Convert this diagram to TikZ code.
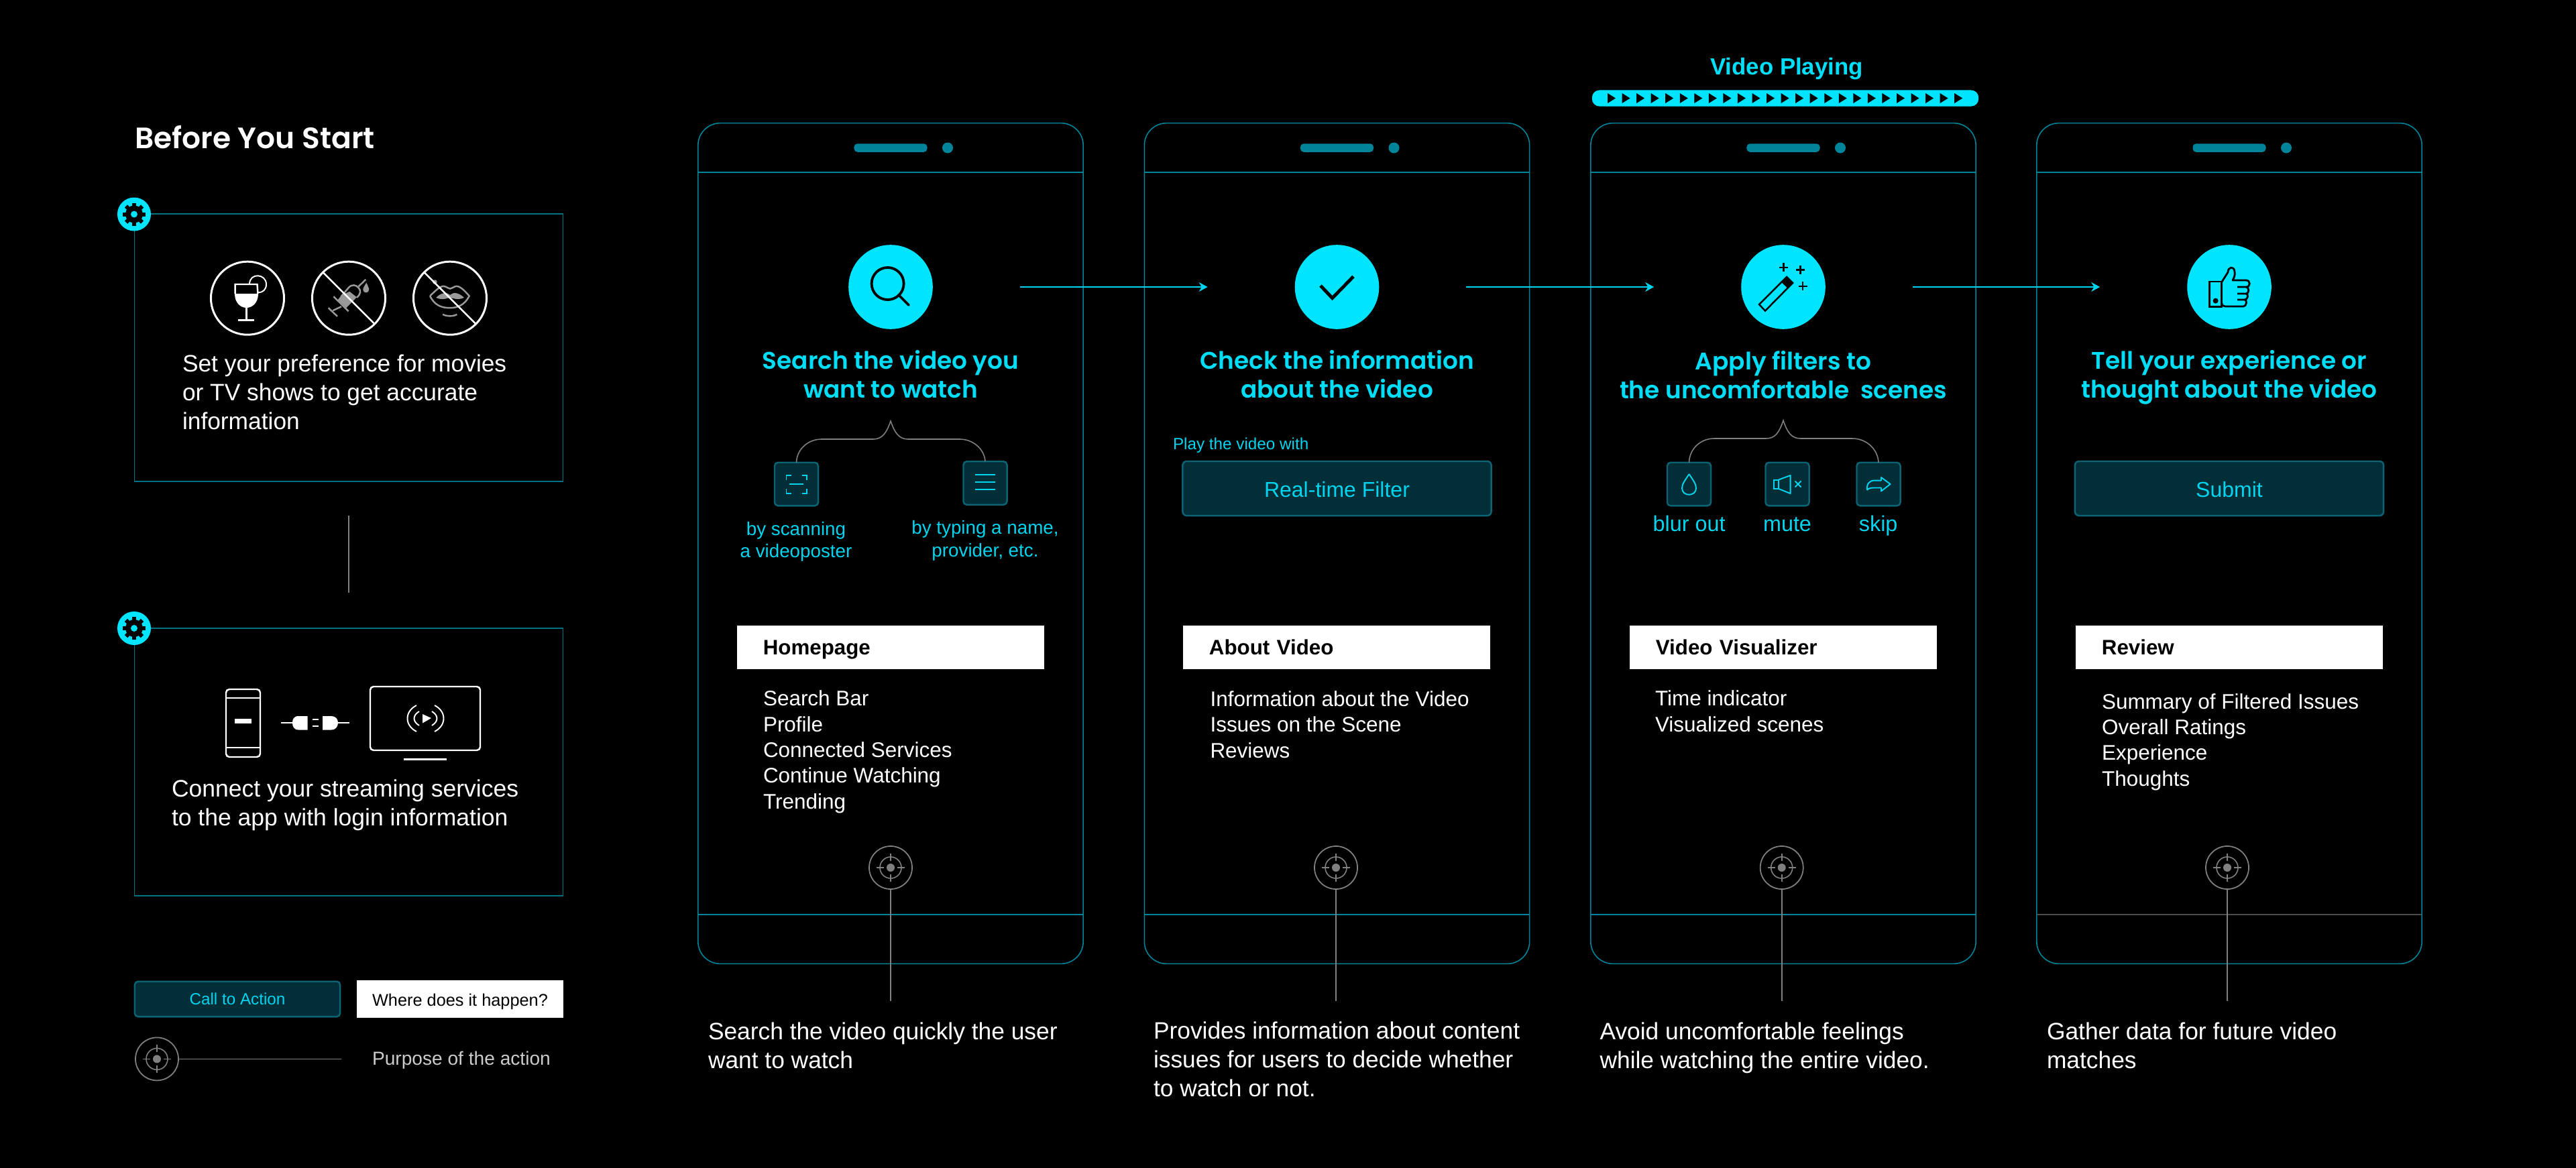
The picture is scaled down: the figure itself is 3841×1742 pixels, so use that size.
\documentclass[tikz,border=0pt]{standalone}
\usepackage{fontspec}
\setmainfont{Liberation Sans}
\newfontfamily\headfont{Poppins}[BoldFont={Poppins SemiBold}]
\usepackage{tikz}
\usetikzlibrary{arrows.meta, positioning, shapes.geometric, calc}
\definecolor{ScreenCyan}{HTML}{00E5FF}
\definecolor{LabelCyan}{HTML}{00D4EE}
\definecolor{PhoneTeal}{HTML}{00849A}
\definecolor{ButtonFill}{HTML}{022E38}
\definecolor{ButtonEdge}{HTML}{0B6373}
\definecolor{MarkGray}{HTML}{808080}

\begin{document}
\begin{tikzpicture}[
  x=0.01cm, y=-0.01cm,
  >=Stealth,
  every node/.style={inner sep=0pt, outer sep=0pt},
  panelbox/.style={draw=PhoneTeal!85!black, line width=0.5pt, minimum width=6.385cm, minimum height=3.985cm},
  phonebox/.style={draw=PhoneTeal, line width=0.45pt, rounded corners=0.33cm, minimum width=5.74cm, minimum height=12.53cm},
  phoneline/.style={line width=0.45pt},
  speaker/.style={fill=PhoneTeal, rounded corners=0.05cm, minimum width=1.09cm, minimum height=0.125cm},
  speakerdot/.style={circle, fill=PhoneTeal, minimum size=0.16cm},
  iconcircle/.style={circle, fill=ScreenCyan, minimum size=1.255cm},
  gearcircle/.style={circle, fill=ScreenCyan, minimum size=0.5cm},
  nocircle/.style={circle, draw=white, line width=0.85pt, minimum size=1.09cm},
  flowarrow/.style={->, LabelCyan, line width=0.55pt, shorten <=1.3cm, shorten >=1.3cm, >={Stealth[length=0.13cm, width=0.14cm]}},
  linkline/.style={MarkGray, line width=0.5pt},
  bracket/.style={MarkGray, line width=0.45pt},
  targetcircle/.style={circle, draw=MarkGray, line width=0.5pt, minimum size=0.64cm},
  squarebtn/.style={draw=ButtonEdge, fill=ButtonFill, line width=0.7pt, rounded corners=0.05cm, minimum width=0.65cm, minimum height=0.645cm},
  widebtn/.style={draw=ButtonEdge, fill=ButtonFill, line width=0.7pt, rounded corners=0.06cm, text=LabelCyan, minimum width=4.6cm, minimum height=0.81cm,
    font=\fontsize{9.1}{11}\selectfont, text height=0.25cm, text depth=0cm},
  pagebox/.style={fill=white, text=black, minimum width=4.58cm, minimum height=0.64cm, text width=3.8cm, align=left,
    font=\fontsize{8.9}{11}\selectfont\bfseries, text height=0.25cm, text depth=0.03cm},
  heading/.style={text=LabelCyan!50!ScreenCyan, align=center, anchor=base, font=\headfont\fontsize{10.2}{12.2}\selectfont\bfseries},
  bodytext/.style={text=white, align=left, anchor=base west, font=\fontsize{10.05}{12.2}\selectfont},
  listtext/.style={text=white, align=left, anchor=base west, font=\fontsize{8.95}{10.9}\selectfont},
  smalltext/.style={text=LabelCyan, align=center, anchor=base, font=\fontsize{7.9}{9.4}\selectfont},
  filtertext/.style={text=LabelCyan, anchor=base, font=\fontsize{9.2}{11}\selectfont},
  btnicon/.style={LabelCyan, line width=0.55pt},
  whiteicon/.style={white, line width=0.7pt},
  grayicon/.style={black!40, line width=0.7pt},
  blackicon/.style={black, line width=1.1pt},
  gearmark/.pic={
    \foreach \a in {0,45,...,315} {\fill[black, rotate=\a] (-3,-17) rectangle (3,0);}
    \fill[black] (0,0) circle[radius=13];
    \fill[ScreenCyan] (0,0) circle[radius=5];
  },
  targetmark/.pic={
    \draw[MarkGray, line width=0.45pt] (0,0) circle[radius=16];
    \fill[MarkGray] (0,0) circle[radius=6];
    \draw[MarkGray, line width=0.45pt] (-21,0) -- (-10,0) (10,0) -- (21,0) (0,-21) -- (0,-10) (0,10) -- (0,21);
  },
]

\useasboundingbox[fill=black] (0,0) rectangle (3841,1742);

% --- Before you start ---
\node[text=white, anchor=base west, font=\headfont\fontsize{12.5}{15}\selectfont\bfseries] (starttitle) at (201,221) {Before You Start};

\node[panelbox] (setupbox) at (520,518.7) {};
\node[panelbox] (connectbox) at (520,1136.5) {};
\draw[linkline, shorten <=0.51cm, shorten >=0.53cm] (setupbox.south) -- (connectbox.north);

\node[gearcircle] (gearA) at (200,319.5) {};
\pic at (gearA) {gearmark};
\node[gearcircle] (gearB) at (200,937) {};
\pic at (gearB) {gearmark};

\node[bodytext] (setuptext) at (272,640) {Set your preference for movies\\or TV shows to get accurate\\information};
\node[bodytext, font=\fontsize{10.1}{12.2}\selectfont] (connecttext) at (256,1231.6) {Connect your streaming services\\to the app with login information};

% --- Preference icons ---
\node[nocircle] (drinkno) at (369,444.7) {};
\node[nocircle] (drugno) at (520,444.7) {};
\node[nocircle] (lipsno) at (671,444.7) {};

% glass
\draw[whiteicon] (350.7,438) -- (350.7,424) -- (383.5,424) -- (384.5,438);
\fill[white] (350,438) -- (385,438) .. controls (385,452) and (376,459) .. (367.5,459) .. controls (359,459) and (350,452) .. (350,438);
\draw[whiteicon] (367.5,459) -- (367.5,477.7);
\draw[whiteicon] (355,477.7) -- (379,477.7);
\draw[whiteicon, line width=0.55pt] (372,424) .. controls (372,406) and (397,408) .. (397,424) .. controls (397,432) and (392,436) .. (385,436.5);

% syringe
\begin{scope}[shift={(300,370)}, x=0.003333cm, y=-0.003333cm]
  \fill[black!40] (630,210) -- (665,195) -- (697,220) -- (650,268) -- (612,232) -- cycle;
  \draw[grayicon] (593,217) -- (660,283);
  \draw[grayicon] (626,218) -- (660,178) .. controls (675,160) and (695,165) .. (705,178) .. controls (717,192) and (715,205) .. (697,222);
  \draw[grayicon] (705,172) -- (737,141);
  \draw[grayicon] (628,262) -- (590,280);
  \draw[grayicon] (570,268) -- (610,306);
  \fill[black!40] (740,155) .. controls (730,172) and (725,180) .. (725,186) .. controls (725,204) and (752,204) .. (752,186) .. controls (752,180) and (748,172) .. (740,155);
\end{scope}
\draw[whiteicon] (drugno.135) -- (drugno.-45);

% lips
\begin{scope}[shift={(300,370)}, x=0.003333cm, y=-0.003333cm]
  \draw[grayicon] (1025,215) .. controls (1050,190) and (1075,165) .. (1092,172) .. controls (1102,176) and (1110,182) .. (1115,182) .. controls (1120,182) and (1128,176) .. (1138,172) .. controls (1155,165) and (1180,190) .. (1201,215) .. controls (1180,255) and (1150,268) .. (1113,268) .. controls (1075,268) and (1045,255) .. (1025,215);
  \fill[black!40] (1052,222) .. controls (1075,200) and (1100,195) .. (1115,210) .. controls (1130,195) and (1155,200) .. (1178,222) .. controls (1150,235) and (1130,225) .. (1115,222) .. controls (1100,225) and (1080,235) .. (1052,222);
  \draw[grayicon] (1082,297) .. controls (1100,307) and (1130,307) .. (1146,297);
  \fill[black!40] (1047,152) circle[radius=10];
\end{scope}
\draw[whiteicon] (lipsno.135) -- (lipsno.-45);

% --- Connect icons ---
\draw[whiteicon, rounded corners=0.05cm] (337,1028) rectangle (388,1129);
\draw[whiteicon] (337,1041) -- (388,1041) (337,1115) -- (388,1115);
\fill[white] (349.5,1072) rectangle (375,1079);
\draw[whiteicon] (419,1078) -- (436,1078);
\fill[white] (458.6,1068) -- (445,1068) .. controls (438,1068) and (436,1073) .. (436,1078) .. controls (436,1083) and (438,1088.5) .. (445,1088.5) -- (458.6,1088.5) -- cycle;
\draw[whiteicon, line width=0.55pt] (466,1073) -- (475,1073) (466,1083) -- (475,1083);
\fill[white] (481,1068) -- (494,1068) .. controls (501,1068) and (504,1073) .. (504,1078) .. controls (504,1083) and (501,1088.5) .. (494,1088.5) -- (481,1088.5) -- cycle;
\draw[whiteicon] (504,1078) -- (521,1078);
\draw[whiteicon, rounded corners=0.05cm] (552,1024) rectangle (716,1119);
\draw[whiteicon] (602,1132.5) -- (666,1132.5);
\draw[whiteicon, line width=0.55pt] (625,1061) .. controls (615,1067) and (615,1076) .. (625,1082) (621,1052) .. controls (603,1061) and (603,1082) .. (621,1091);
\draw[whiteicon, line width=0.55pt] (644,1061) .. controls (654,1067) and (654,1076) .. (644,1082) (648,1052) .. controls (666,1061) and (666,1082) .. (648,1091);
\fill[white] (630,1065) -- (643,1071) -- (630,1078.5) -- cycle;

% --- Legend ---
\node[draw=ButtonEdge, fill=ButtonFill, line width=0.7pt, rounded corners=0.05cm, text=LabelCyan, minimum width=3.06cm, minimum height=0.525cm,
  font=\fontsize{6.9}{8}\selectfont, text height=0.16cm, text depth=0cm] (ctakey) at (354,1490) {Call to Action};
\node[fill=white, text=black, minimum width=3.08cm, minimum height=0.56cm, font=\fontsize{7.2}{9}\selectfont, text height=0.21cm, text depth=0cm] (wherekey) at (686,1490) {Where does it happen?};
\node[targetcircle] (targetkey) at (234,1579.4) {};
\pic at (targetkey) {targetmark};
\coordinate (targetkeyend) at (509,1579.4);
\draw[linkline] (targetkey.east) -- (targetkeyend);
\node[text=black!20, anchor=base west, font=\fontsize{8}{10}\selectfont] (purposekey) at (555,1588) {Purpose of the action};

% --- Phones ---
\foreach \i/\cx/\footcol in {1/1328/PhoneTeal, 2/1993.5/PhoneTeal, 3/2659/PhoneTeal, 4/3324/black!70} {
  \node[phonebox] (phone\i) at (\cx,810.5) {};
  \draw[phoneline, PhoneTeal] (phone\i.west |- 0,257) -- (phone\i.east |- 0,257);
  \draw[phoneline, \footcol] (phone\i.west |- 0,1364) -- (phone\i.east |- 0,1364);
  \node[speaker] (speaker\i) at (\cx,220.5) {};
  \node[speakerdot] (camera\i) at (\cx+85,220.5) {};
  \node[iconcircle] (icon\i) at (\cx,428) {};
}

% --- Steps ---
\draw[flowarrow] (icon1.east) -- (icon2.west);
\draw[flowarrow] (icon2.east) -- (icon3.west);
\draw[flowarrow] (icon3.east) -- (icon4.west);

% magnifier, tick, wand, thumb
\draw[blackicon] (1323.6,423) circle[radius=24];
\draw[blackicon, line cap=round] (1340,440) -- (1355,455);
\draw[blackicon, line width=1.4pt] (1969,426) -- (1986.6,444.6) -- (2018,412.4);
\draw[black, line width=0.7pt] (2623,454) -- (2664,413) -- (2673,422) -- (2632,463.6) -- cycle;
\fill[black] (2656,420.7) -- (2664,413) -- (2673,422) -- (2665,429.4) -- cycle;
\draw[black, line width=0.7pt] (2653,398.8) -- (2666,398.8) (2659.4,392.3) -- (2659.4,405.3);
\draw[black, line width=0.7pt] (2678,402.4) -- (2691,402.4) (2684.4,396) -- (2684.4,409);
\draw[black, line width=0.7pt] (2681.5,426.8) -- (2694.5,426.8) (2688,420.3) -- (2688,433.3);
\draw[black, line width=0.8pt] (3294.6,420) rectangle (3312.5,457.3);
\fill[black] (3303.6,448.6) circle[radius=4];
\draw[black, line width=0.8pt, line join=round] (3312.5,421) -- (3322,406) .. controls (3322,398) and (3331,396) .. (3332,405) .. controls (3333,411) and (3331,414) .. (3329,418) -- (3349,418) .. controls (3356,418) and (3356,428) .. (3349,428) -- (3336,428)
  (3349,428) .. controls (3354,428) and (3354,438) .. (3349,438) -- (3336,438)
  (3349,438) .. controls (3353,438) and (3352,447) .. (3347,447) -- (3336,447)
  (3347,447) .. controls (3351,447) and (3350,457) .. (3345,457) -- (3318,457) .. controls (3315,457) and (3312.5,455) .. (3312.5,452);

\node[heading] (head1) at (1328,593) {Search the video you\\want to watch};
\node[heading] (head2) at (1993.5,593) {Check the information\\about the video};
\node[heading] (head3) at (2659,594) {Apply filters to\\the uncomfortable\ \ scenes};
\node[heading] (head4) at (3324,593) {Tell your experience or\\thought about the video};

% --- Video playing bar ---
\node[text=LabelCyan!40!ScreenCyan, anchor=base, font=\fontsize{9.9}{12}\selectfont\bfseries] (playtitle) at (2664,111) {Video Playing};
\node[fill=ScreenCyan, rounded corners=0.11cm, minimum width=5.76cm, minimum height=0.24cm] (playbar) at (2662,146.5) {};
\foreach \i in {0,...,24} {
  \fill[black] ({2397+21.55*\i},139) -- ++(12,7.5) -- ++(-12,7.5) -- cycle;
}

% --- Step 1 options ---
\node[squarebtn] (scanbtn) at (1187.5,722) {};
\node[squarebtn] (typebtn) at (1469,720.5) {};
\coordinate (tip1) at (1328,628);
\draw[bracket] (scanbtn.north) .. controls (1188,670) and (1205,655) .. (1225,655) -- (1302,655) .. controls (1316,655) and (1322,645) .. (tip1)
  .. controls (1334,645) and (1340,655) .. (1354,655) -- (1431,655) .. controls (1451,655) and (1468,670) .. (typebtn.north);
\draw[btnicon] (1172.5,716) -- (1172.5,709) -- (1179.5,709) (1195.5,709) -- (1202.6,709) -- (1202.6,716)
  (1202.6,728.5) -- (1202.6,735.6) -- (1195.5,735.6) (1179.5,735.6) -- (1172.5,735.6) -- (1172.5,728.5);
\draw[btnicon] (1177,722) -- (1198,722);
\draw[btnicon] (1454,708.4) -- (1484,708.4) (1454,719) -- (1484,719) (1454,730) -- (1484,730);
\node[smalltext] (scanlabel) at (1187,831.6) {by scanning\\a videoposter};
\node[smalltext] (typelabel) at (1469,830) {by typing a name,\\provider, etc.};

% --- Step 2 and 4 buttons ---
\node[text=LabelCyan, anchor=base west, font=\fontsize{6.9}{8}\selectfont] (playwith) at (1749,670) {Play the video with};
\node[widebtn] (filterbtn) at (1993.5,728.5) {Real-time Filter};
\node[widebtn] (submitbtn) at (3324,728.5) {Submit};

% --- Step 3 options ---
\node[squarebtn] (blurbtn) at (2518.5,722) {};
\node[squarebtn] (mutebtn) at (2665,722) {};
\node[squarebtn] (skipbtn) at (2801,722) {};
\coordinate (tip3) at (2659,627);
\draw[bracket] (blurbtn.north) .. controls (2519,670) and (2535,654) .. (2556,654) -- (2633,654) .. controls (2647,654) and (2653,645) .. (tip3)
  .. controls (2665,645) and (2671,654) .. (2685,654) -- (2762,654) .. controls (2783,654) and (2800,670) .. (skipbtn.north);
\draw[btnicon] (2518.6,707) .. controls (2512,717) and (2508,722) .. (2508,728) .. controls (2508,741) and (2529,741) .. (2529,728) .. controls (2529,722) and (2525,717) .. (2518.6,707);
\draw[btnicon] (2645,715.6) rectangle (2652,729);
\draw[btnicon, line join=round] (2652,715.6) -- (2669.6,709) -- (2669.6,736) -- (2652,729);
\draw[btnicon] (2676.5,717.5) -- (2685.5,726.5) (2685.5,717.5) -- (2676.5,726.5);
\draw[btnicon, line join=round] (2784,731) .. controls (2783,722) and (2787,716.6) .. (2795,716.6) -- (2805,716.6) -- (2805,712) -- (2818.6,722) -- (2805,732.5) -- (2805,727.5) -- (2794,727.5) .. controls (2790,727.5) and (2786,728) .. (2784,731);
\node[filtertext] (blurlabel) at (2518.6,792) {blur out};
\node[filtertext] (mutelabel) at (2665,792) {mute};
\node[filtertext] (skiplabel) at (2800.7,792) {skip};

% --- Screen names ---
\node[pagebox] (homepage) at (1328,965.5) {Homepage};
\node[pagebox] (aboutpage) at (1993,965.5) {About Video};
\node[pagebox] (visualpage) at (2659,965.5) {Video Visualizer};
\node[pagebox] (reviewpage) at (3324,965.5) {Review};

\node[listtext] (homelist) at (1138,1206) {Search Bar\\Profile\\Connected Services\\Continue Watching\\Trending};
\node[listtext] (aboutlist) at (1804.5,1130) {Information about the Video\\Issues on the Scene\\Reviews};
\node[listtext] (visuallist) at (2468,1091) {Time indicator\\Visualized scenes};
\node[listtext] (reviewlist) at (3134,1172) {Summary of Filtered Issues\\Overall Ratings\\Experience\\Thoughts};

% --- Purpose marks ---
\node[targetcircle] (target1) at (1328,1294) {};
\node[targetcircle] (target2) at (1992,1294) {};
\node[targetcircle] (target3) at (2656.7,1294) {};
\node[targetcircle] (target4) at (3321,1294) {};
\foreach \i in {1,2,3,4} {
  \pic at (target\i) {targetmark};
  \coordinate (purpose\i) at (target\i |- 0,1493);
  \draw[linkline] (target\i.south) -- (purpose\i);
}

\node[bodytext] (purposetext1) at (1056,1593) {Search the video quickly the user\\want to watch};
\node[bodytext] (purposetext2) at (1720,1635.7) {Provides information about content\\issues for users to decide whether\\to watch or not.};
\node[bodytext] (purposetext3) at (2385.6,1593) {Avoid uncomfortable feelings\\while watching the entire video.};
\node[bodytext] (purposetext4) at (3052,1593) {Gather data for future video\\matches};

\end{tikzpicture}
\end{document}
